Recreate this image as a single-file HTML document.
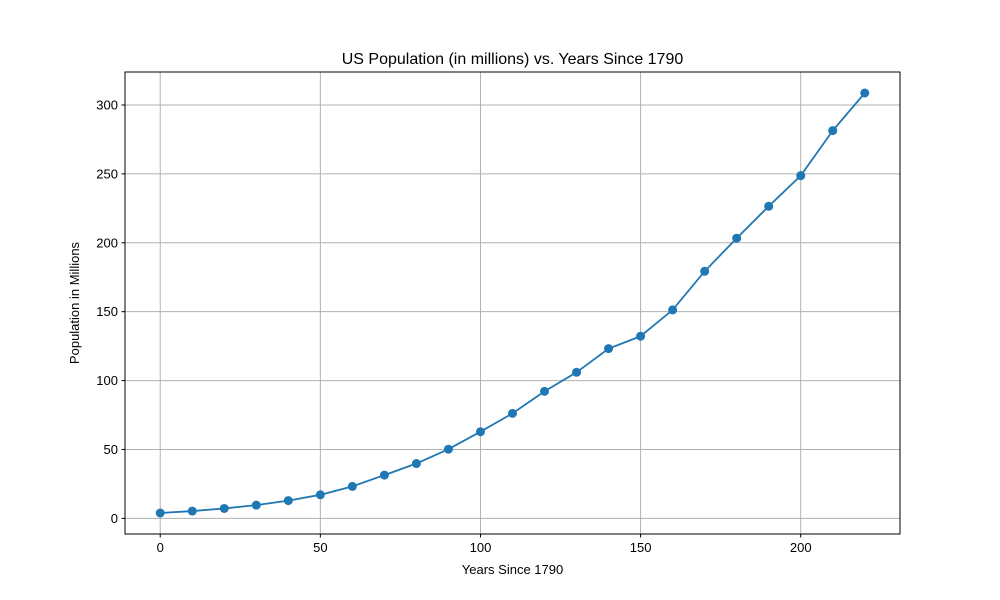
<!DOCTYPE html>
<html><head><meta charset="utf-8"><style>
html,body{margin:0;padding:0;background:#fff;}
svg{display:block;font-family:"Liberation Sans","DejaVu Sans",sans-serif;}
</style></head><body>
<svg id="chart" width="1000" height="600">
<text x="512.5" y="64" text-anchor="middle" font-size="16">US Population (in millions) vs. Years Since 1790</text>
<text x="512.5" y="574" text-anchor="middle" font-size="13">Years Since 1790</text>
<text transform="translate(79,303) rotate(-90)" text-anchor="middle" font-size="13">Population in Millions</text>
<g id="grid"></g><g id="ticks"></g><g id="series"></g>
<rect x="125" y="72" width="775" height="462" fill="none" stroke="#000" stroke-width="1"/>
</svg>
<script>
const years = [0,10,20,30,40,50,60,70,80,90,100,110,120,130,140,150,160,170,180,190,200,210,220];
const population = [3.9,5.3,7.2,9.6,12.9,17.1,23.2,31.4,39.8,50.2,62.9,76.2,92.2,106.0,123.2,132.2,151.3,179.3,203.3,226.5,248.7,281.4,308.7];
const xTicks = [0,50,100,150,200];
const yTicks = [0,50,100,150,200,250,300];

const L=125,R=900,T=72,B=534;
const xmin=-11,xmax=231,ymin=-11.34,ymax=323.94;
const sx=v=>L+(v-xmin)/(xmax-xmin)*(R-L);
const sy=v=>B-(v-ymin)/(ymax-ymin)*(B-T);
const NS="http://www.w3.org/2000/svg";
function mk(tag,attrs,parent){const e=document.createElementNS(NS,tag);for(const k in attrs)e.setAttribute(k,attrs[k]);parent.appendChild(e);return e;}
const grid=document.getElementById('grid'),ticks=document.getElementById('ticks'),series=document.getElementById('series');

xTicks.forEach(v=>{
  const x=sx(v);
  const g=mk('line',{x1:x,x2:x,y1:T,y2:B,stroke:'#b0b0b0','stroke-width':1},grid);
  
  
  const t=mk('line',{x1:x,x2:x,y1:B,y2:B+3.5,stroke:'#000'},ticks);
  
  
  const l=mk('text',{x:x,y:B+18,'text-anchor':'middle','font-size':13},ticks);
  l.textContent=v;
  
  
});
yTicks.forEach(v=>{
  const y=sy(v);
  const g=mk('line',{x1:L,x2:R,y1:y,y2:y,stroke:'#b0b0b0','stroke-width':1},grid);
  
  
  const t=mk('line',{x1:L-3.5,x2:L,y1:y,y2:y,stroke:'#000'},ticks);
  
  
  const l=mk('text',{x:L-7,y:y+4.5,'text-anchor':'end','font-size':13},ticks);
  l.textContent=v;
  
  
});
const pts=years.map((x,i)=>sx(x)+','+sy(population[i])).join(' ');
const line=mk('polyline',{points:pts,fill:'none',stroke:'#1f77b4','stroke-width':1.8},series);


years.forEach((x,i)=>{
  const c=mk('circle',{cx:sx(x),cy:sy(population[i]),r:4.5,fill:'#1f77b4'},series);
  
  
});
</script>
</body></html>
